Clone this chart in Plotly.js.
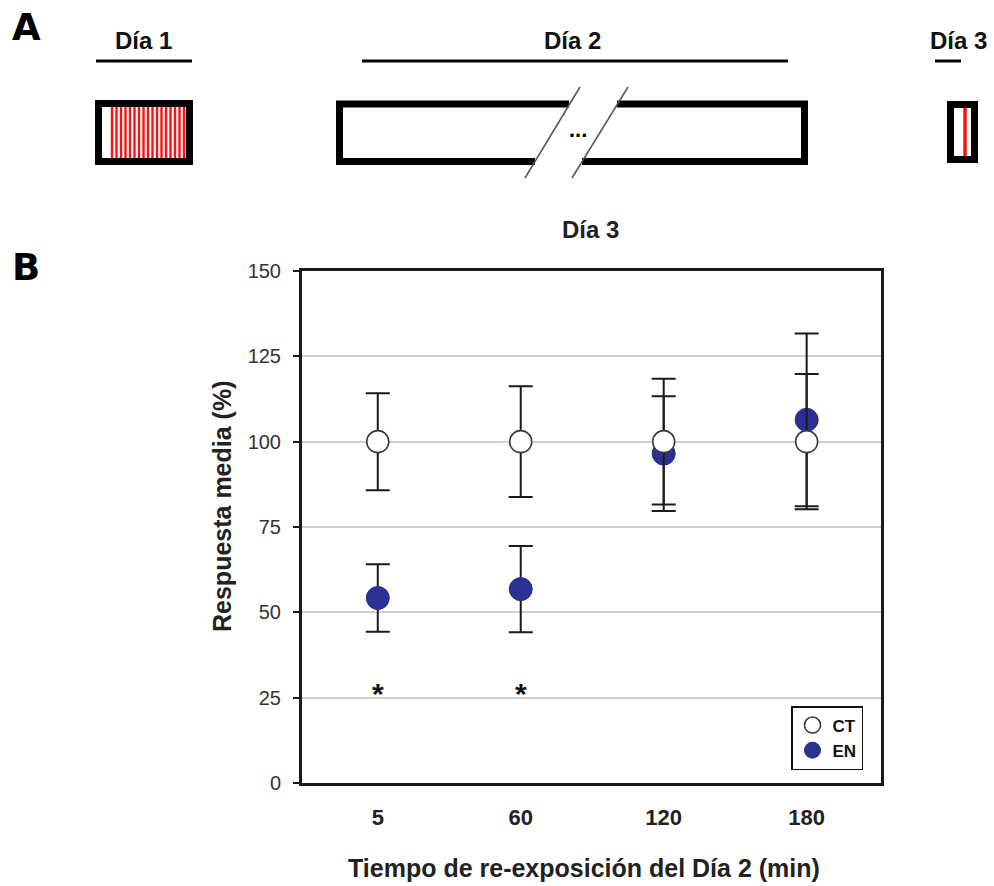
<!DOCTYPE html>
<html>
<head>
<meta charset="utf-8">
<script src="https://cdn.plot.ly/plotly-3.0.1.min.js"></script>
<style>html,body{margin:0;padding:0;background:#fff;}#chart{width:994px;height:886px;}</style>
</head>
<body>
<div id="chart"></div>
<script>
// ---- data ----
var times = ['5', '60', '120', '180'];
var ctMean = [100, 100, 100, 100];
var ctErr = [14.2, 16.2, 18.4, 19.8];
var enMean = [54.2, 56.8, 96.5, 106.4];
var enErr = [9.9, 12.6, 16.8, 25.3];
var sigTimes = ['5', '60'];
var sigY = [28.3, 28.3];
var yTicks = [0, 25, 50, 75, 100, 125, 150];
var seriesNames = ['CT', 'EN'];
var dayLabels = ['Día 1', 'Día 2', 'Día 3'];

// ---- geometry helpers (pixel -> paper) ----
var PL = 302, PR = 881, PT = 271, PB = 783;
function px(x) { return (x - PL) / (PR - PL); }
function py(y) { return (PB - y) / (PB - PT); }
var FONT = 'Liberation Sans, Arial, sans-serif';

var shapes = [];
function line(x0, y0, x1, y1, w, c) {
  shapes.push({type: 'line', xref: 'paper', yref: 'paper', x0: px(x0), y0: py(y0), x1: px(x1), y1: py(y1),
    line: {color: c || '#000', width: w}});
}
function rect(x0, y0, x1, y1, w, c, fill) {
  shapes.push({type: 'rect', xref: 'paper', yref: 'paper', x0: px(x0), y0: py(y0), x1: px(x1), y1: py(y1),
    line: {color: c || '#000', width: w}, fillcolor: fill || 'rgba(0,0,0,0)'});
}
function pathPx(pts, w) {
  var d = pts.map(function (p, i) { return (i ? 'L' : 'M') + px(p[0]) + ',' + py(p[1]); }).join(' ');
  shapes.push({type: 'path', xref: 'paper', yref: 'paper', path: d, line: {color: '#000', width: w}});
}

// Panel A: day brackets
line(96, 61, 192, 61, 3);
line(362, 61, 788, 61, 3);
line(935, 61, 961, 61, 3);

// Día 1 box with red stripes
for (var i = 0; i < 17; i++) {
  var sx = 112 + i * 4.5;
  line(sx, 106, sx, 159, 2.4, '#ff1010');
}
rect(98.5, 103.5, 189.5, 161.5, 7);

// Día 2 box with break
pathPx([[569, 104], [339.5, 104], [339.5, 161.5], [535, 161.5]], 7);
pathPx([[617, 104], [804.5, 104], [804.5, 161.5], [582, 161.5]], 7);
line(525, 178, 580, 87, 1.5, '#555');
line(572, 178, 628, 87, 1.5, '#555');

// Día 3 box with one stripe
line(965, 106, 965, 158, 3.5, '#ff1010');
rect(950.5, 104.5, 974.5, 159.5, 7);

var annotations = [
  {text: '<b>A</b>', x: px(26), y: py(27), font: {size: 37, family: 'DejaVu Sans, sans-serif', color: '#000'}},
  {text: '<b>B</b>', x: px(26), y: py(267), font: {size: 37, family: 'DejaVu Sans, sans-serif', color: '#000'}},
  {text: '<b>' + dayLabels[0] + '</b>', x: px(143), y: py(40), font: {size: 24, color: '#111'}},
  {text: '<b>' + dayLabels[1] + '</b>', x: px(572), y: py(40), font: {size: 24, color: '#111'}},
  {text: '<b>' + dayLabels[2] + '</b>', x: px(958), y: py(40), font: {size: 24, color: '#111'}},
  {text: '<b>...</b>', x: px(578), y: py(129), font: {size: 22, color: '#000'}},
  {text: '<b>Día 3</b>', x: px(590), y: py(229), font: {size: 24, color: '#222'}},
  {text: '<b>Tiempo de re-exposición del Día 2 (min)</b>', x: px(584), y: py(868), font: {size: 25, color: '#222'}},
  {text: '<b>Respuesta media (%)</b>', x: px(222), y: py(507), textangle: -90, font: {size: 25, color: '#222'}}
].map(function (a) {
  return Object.assign({xref: 'paper', yref: 'paper', showarrow: false, xanchor: 'center', yanchor: 'middle'},
    a, {font: Object.assign({family: FONT}, a.font)});
});

// significance asterisks (data coords, category index)
sigTimes.forEach(function (t, k) {
  annotations.push({xref: 'x', yref: 'y', x: times.indexOf(t), y: sigY[k], text: '<b>*</b>', showarrow: false,
    xanchor: 'center', yanchor: 'middle', yshift: -7, font: {family: FONT, size: 30, color: '#111'}});
});

var traces = [
  {
    x: times, y: enMean, name: seriesNames[1], type: 'scatter', mode: 'markers', legendrank: 2,
    marker: {size: 23, color: '#2b3192', line: {color: '#262c85', width: 1}},
    error_y: {type: 'data', array: enErr, visible: true, color: '#1a1a1a', thickness: 2, width: 12}
  },
  {
    x: times, y: ctMean, name: seriesNames[0], type: 'scatter', mode: 'markers', legendrank: 1,
    marker: {size: 22, color: '#ffffff', line: {color: '#3a3a4a', width: 1.6}},
    error_y: {type: 'data', array: ctErr, visible: true, color: '#1a1a1a', thickness: 2, width: 12}
  }
];

var layout = {
  width: 994, height: 886,
  margin: {l: PL, r: 994 - PR, t: PT, b: 886 - PB, pad: 0},
  paper_bgcolor: '#fff', plot_bgcolor: '#fff',
  font: {family: FONT, color: '#222'},
  showlegend: true,
  legend: {
    x: px(863), y: py(770), xanchor: 'right', yanchor: 'bottom',
    bgcolor: '#fff', bordercolor: '#111', borderwidth: 1.5,
    font: {size: 17, family: FONT, color: '#111', weight: 'bold'},
    itemclick: false
  },
  xaxis: {
    type: 'category', range: [-0.53, 3.52], fixedrange: true,
    tickvals: times, ticktext: times,
    showgrid: false, zeroline: false,
    showline: true, linecolor: '#1a1a1a', linewidth: 3, mirror: true,
    ticks: '', ticklabelstandoff: 13,
    tickfont: {size: 22, family: FONT, color: '#222', weight: 'bold'}
  },
  yaxis: {
    range: [0, 150], fixedrange: true,
    tickvals: yTicks, ticktext: yTicks.map(String),
    showgrid: true, gridcolor: '#cfcfcf', gridwidth: 2, zeroline: false,
    showline: true, linecolor: '#1a1a1a', linewidth: 3, mirror: true,
    ticks: 'outside', ticklen: 6, tickwidth: 2, tickcolor: '#1a1a1a', ticklabelstandoff: 8,
    tickfont: {size: 20, family: FONT, color: '#333'}
  },
  shapes: shapes,
  annotations: annotations
};

Plotly.newPlot('chart', traces, layout, {displayModeBar: false, staticPlot: true});
</script>
</body>
</html>
